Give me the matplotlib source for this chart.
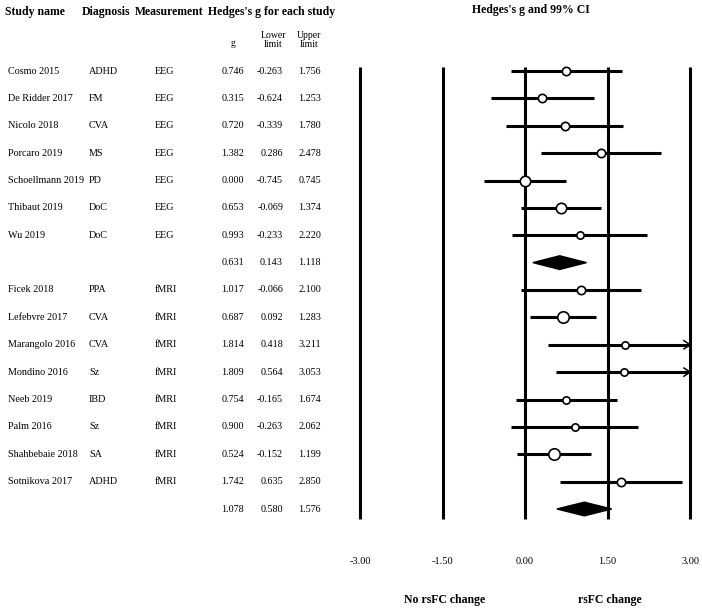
import matplotlib
matplotlib.use("Agg")
import matplotlib.pyplot as plt
import matplotlib.transforms as mtransforms
from matplotlib.patches import Polygon

plt.rcParams['font.family'] = ['Liberation Serif', 'DejaVu Serif']

# data
studies = ['Cosmo 2015', 'De Ridder 2017', 'Nicolo 2018', 'Porcaro 2019', 'Schoellmann 2019',
           'Thibaut 2019', 'Wu 2019', None,
           'Ficek 2018', 'Lefebvre 2017', 'Marangolo 2016', 'Mondino 2016', 'Neeb 2019',
           'Palm 2016', 'Shahbebaie 2018', 'Sotnikova 2017', None]
diagnosis = ['ADHD', 'FM', 'CVA', 'MS', 'PD', 'DoC', 'DoC', '',
             'PPA', 'CVA', 'CVA', 'Sz', 'IBD', 'Sz', 'SA', 'ADHD', '']
measurement = ['EEG'] * 7 + [''] + ['fMRI'] * 8 + ['']
g = [0.746, 0.315, 0.720, 1.382, 0.000, 0.653, 0.993, 0.631,
     1.017, 0.687, 1.814, 1.809, 0.754, 0.900, 0.524, 1.742, 1.078]
lower = [-0.263, -0.624, -0.339, 0.286, -0.745, -0.069, -0.233, 0.143,
         -0.066, 0.092, 0.418, 0.564, -0.165, -0.263, -0.152, 0.635, 0.580]
upper = [1.756, 1.253, 1.780, 2.478, 0.745, 1.374, 2.220, 1.118,
         2.100, 1.283, 3.211, 3.053, 1.674, 2.062, 1.199, 2.850, 1.576]
# relative study weights (marker size)
weights = [8, 8, 8, 8, 10, 10, 7, 0, 8, 11, 7, 7, 7, 7, 11, 8, 0]
ticks = [-3.0, -1.5, 0.0, 1.5, 3.0]

W, H = 702, 612
fig = plt.figure(figsize=(W / 100, H / 100), dpi=100)

# forest axes: x -3..3 -> 360..690 px, rows 0..16 -> 71..509 px
step = (509 - 71) / 16
top = 71 - step / 2
bot = 509 + step / 2
ax = fig.add_axes([360 / W, 1 - bot / H, 330 / W, (bot - top) / H])
ax.set_xlim(-3, 3)
ax.set_ylim(16.5, -0.5)
ax.axis('off')

for t in ticks:
    ax.plot([t, t], [-0.15, 16.35], color='black', lw=2.2, clip_on=False, solid_capstyle='butt')
    ax.text(t, 17.9, f'{t:.2f}', ha='center', va='center', fontsize=7.5, clip_on=False)

for i in range(len(g)):
    if studies[i] is None:
        d = Polygon([[lower[i], i], [g[i], i - 0.25], [upper[i], i], [g[i], i + 0.25]],
                    closed=True, color='black')
        ax.add_patch(d)
        continue
    hi = min(upper[i], 3.0)
    ax.plot([lower[i], hi], [i, i], color='black', lw=2.2, solid_capstyle='butt', zorder=2)
    if upper[i] > 3.0:
        ax.plot([2.89, 3.0, 2.89], [i - 0.15, i, i + 0.15], color='black', lw=1.1, zorder=2,
                clip_on=False)
    ax.plot(g[i], i, 'o', ms=weights[i] * 0.75, mfc='white', mec='black', mew=1.2, zorder=3)

lab = mtransforms.blended_transform_factory(fig.transFigure, ax.transData)
fig.text(445 / W, 1 - 600 / H, 'No rsFC change', ha='center', va='center', fontsize=8.5, weight='bold')
fig.text(610 / W, 1 - 600 / H, 'rsFC change', ha='center', va='center', fontsize=8.5, weight='bold')

# table
fs = 7.3
for i in range(len(g)):
    if studies[i] is not None:
        ax.text(8 / W, i, studies[i], transform=lab, ha='left', va='center', fontsize=fs)
        ax.text(89 / W, i, diagnosis[i], transform=lab, ha='left', va='center', fontsize=fs)
        ax.text(155 / W, i, measurement[i], transform=lab, ha='left', va='center', fontsize=fs)
    ax.text(244 / W, i, f'{g[i]:.3f}', transform=lab, ha='right', va='center', fontsize=fs)
    ax.text(283 / W, i, f'{lower[i]:.3f}', transform=lab, ha='right', va='center', fontsize=fs)
    ax.text(321 / W, i, f'{upper[i]:.3f}', transform=lab, ha='right', va='center', fontsize=fs)

hy = 1 - 12 / H
fig.text(5 / W, hy, 'Study name', ha='left', va='center', fontsize=8.5, weight='bold')
fig.text(82 / W, hy, 'Diagnosis', ha='left', va='center', fontsize=8.5, weight='bold')
fig.text(135 / W, hy, 'Measurement', ha='left', va='center', fontsize=8.5, weight='bold')
fig.text(208 / W, hy, "Hedges's g for each study", ha='left', va='center', fontsize=8.5, weight='bold')
fig.text(531 / W, 1 - 10 / H, "Hedges's g and 99% CI", ha='center', va='center', fontsize=8.5, weight='bold')

sy = 1 - 40 / H
fig.text(233 / W, 1 - 43 / H, 'g', ha='center', va='center', fontsize=7)
fig.text(273 / W, sy, 'Lower\nlimit', ha='center', va='center', fontsize=7, linespacing=0.95)
fig.text(309 / W, sy, 'Upper\nlimit', ha='center', va='center', fontsize=7, linespacing=0.95)

fig.savefig('out.png', dpi=100, facecolor='white')
